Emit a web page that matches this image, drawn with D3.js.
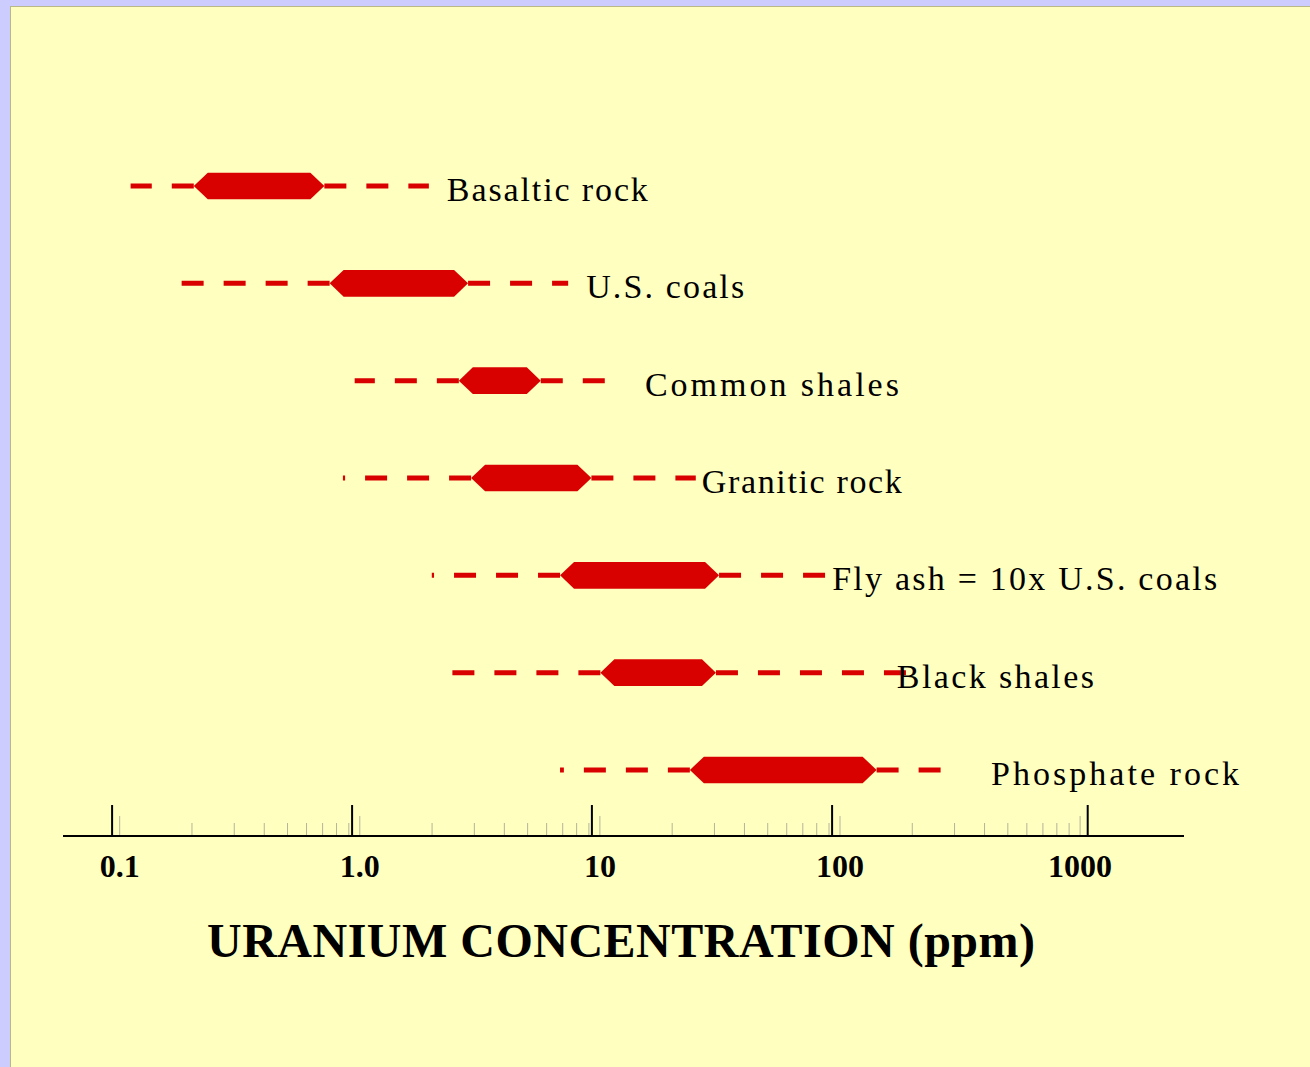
<!DOCTYPE html>
<html>
<head>
<meta charset="utf-8">
<script src="https://cdn.jsdelivr.net/npm/d3@7"></script>
<style>
  body { margin: 0; background: #ccccff; }
  svg { display: block; }
</style>
</head>
<body>
<svg id="chart"></svg>
<script>
// rock types, top to bottom
const categories = ["Basaltic rock", "U.S. coals", "Common shales", "Granitic rock",
  "Fly ash = 10x U.S. coals", "Black shales", "Phosphate rock"];
// uranium, ppm: full range (dashed) and typical range (thick bar)
const rangeMin = [0.12, 0.195, 1.03, 0.92, 2.16, 2.6, 7.4];
const typicalLow = [0.22, 0.81, 2.8, 3.15, 7.4, 10.9, 25.7];
const typicalHigh = [0.77, 3.06, 6.15, 10.0, 34, 33, 150];
const rangeMax = [2.1, 8.0, 11.6, 27.2, 94, 197, 268];
// axis
const majorTicks = [0.1, 1, 10, 100, 1000];
const tickLabels = ["0.1", "1.0", "10", "100", "1000"];

// layout
const width = 1310;
const height = 1067;
const axisY = 836;
const barHalf = 13.3;
const barIndent = 14;
const labelDx = [18, 18, 38, 6, 7, -10, 50];
const labelWidth = [201, 158, 254, 200, 385, 197, 248];
const red = "#d90000";
const serif = "'Liberation Serif', 'Times New Roman', serif";

const svg = d3.select("#chart")
  .attr("width", width)
  .attr("height", height);

// yellow panel
svg.append("rect")
  .attr("x", 10.5)
  .attr("y", 6.5)
  .attr("width", width)
  .attr("height", height)
  .attr("fill", "#ffffc0")
  .attr("stroke", "#b8b888")
  .attr("stroke-width", 1);

//scales
const x = d3.scaleLog()
  .domain(majorTicks)
  .range([111.6, 351.6, 591.4, 831.6, 1087.2]);
// the grey minor ticks and the numbers sit a few px to the right
const xMinor = d3.scaleLog()
  .domain([0.1, 1000])
  .range([119.2, 1079.6]);
const y = d3.scalePoint()
  .domain(categories)
  .range([186, 770]);

const isDecade = (v) => Math.abs(Math.log10(v) - Math.round(Math.log10(v))) < 1e-9;

//axis
const shortAxis = d3.axisBottom(xMinor)
  .tickValues(xMinor.ticks().filter((v) => !isDecade(v)))
  .tickFormat("")
  .tickSizeInner(-12)
  .tickSizeOuter(0);
const tallAxis = d3.axisBottom(xMinor)
  .tickValues(majorTicks)
  .tickFormat((d, i) => tickLabels[i])
  .tickSizeInner(-19)
  .tickSizeOuter(0);
const majorAxis = d3.axisBottom(x)
  .tickValues(majorTicks)
  .tickFormat("")
  .tickSizeInner(-31)
  .tickSizeOuter(0);

const gShort = svg.append("g")
  .attr("transform", `translate(0, ${axisY - 1})`)
  .call(shortAxis);
const gTall = svg.append("g")
  .attr("transform", `translate(0, ${axisY - 1})`)
  .call(tallAxis);
[gShort, gTall].forEach((g) => {
  g.select(".domain").remove();
  g.selectAll(".tick line").attr("stroke", "#b4b49a").attr("stroke-width", 1);
});
gTall.selectAll(".tick text")
  .attr("y", 42)
  .attr("dy", null)
  .attr("fill", "#000")
  .style("font-family", serif)
  .style("font-size", "32px")
  .style("font-weight", "bold");

const gMajor = svg.append("g")
  .attr("transform", `translate(0, ${axisY})`)
  .call(majorAxis);
gMajor.select(".domain").remove();
gMajor.selectAll(".tick line").attr("stroke", "#000").attr("stroke-width", 2);

svg.append("line")
  .attr("x1", 63)
  .attr("x2", 1184)
  .attr("y1", axisY)
  .attr("y2", axisY)
  .attr("stroke", "#000")
  .attr("stroke-width", 2);

svg.append("text")
  .attr("x", 621)
  .attr("y", 957)
  .attr("text-anchor", "middle")
  .attr("textLength", 828)
  .attr("lengthAdjust", "spacing")
  .style("font-family", serif)
  .style("font-size", "48px")
  .style("font-weight", "bold")
  .text("URANIUM CONCENTRATION (ppm)");

//rows
const rows = categories.map((c, i) => ({
  name: c, i: i,
  min: rangeMin[i], lo: typicalLow[i], hi: typicalHigh[i], max: rangeMax[i]
}));

const row = svg.selectAll("g.row")
  .data(rows)
  .enter()
  .append("g")
  .attr("class", "row")
  .attr("transform", (d) => `translate(0, ${y(d.name)})`);

// dashes start at the bar and run outwards
row.append("line")
  .attr("x1", (d) => x(d.lo))
  .attr("x2", (d) => x(d.min))
  .attr("stroke", red)
  .attr("stroke-width", 5)
  .attr("stroke-dasharray", "22 20");
row.append("line")
  .attr("x1", (d) => x(d.hi))
  .attr("x2", (d) => x(d.max))
  .attr("stroke", red)
  .attr("stroke-width", 5)
  .attr("stroke-dasharray", "22 20");

row.append("path")
  .attr("fill", red)
  .attr("d", (d) => {
    const a = x(d.lo), b = x(d.hi);
    return `M${a},0 L${a + barIndent},${-barHalf} L${b - barIndent},${-barHalf} ` +
      `L${b},0 L${b - barIndent},${barHalf} L${a + barIndent},${barHalf} Z`;
  });

row.append("text")
  .attr("x", (d) => x(d.max) + labelDx[d.i])
  .attr("y", 15)
  .attr("textLength", (d) => labelWidth[d.i])
  .attr("lengthAdjust", "spacing")
  .style("font-family", serif)
  .style("font-size", "34px")
  .attr("fill", "#000")
  .text((d) => d.name);
</script>
</body>
</html>
